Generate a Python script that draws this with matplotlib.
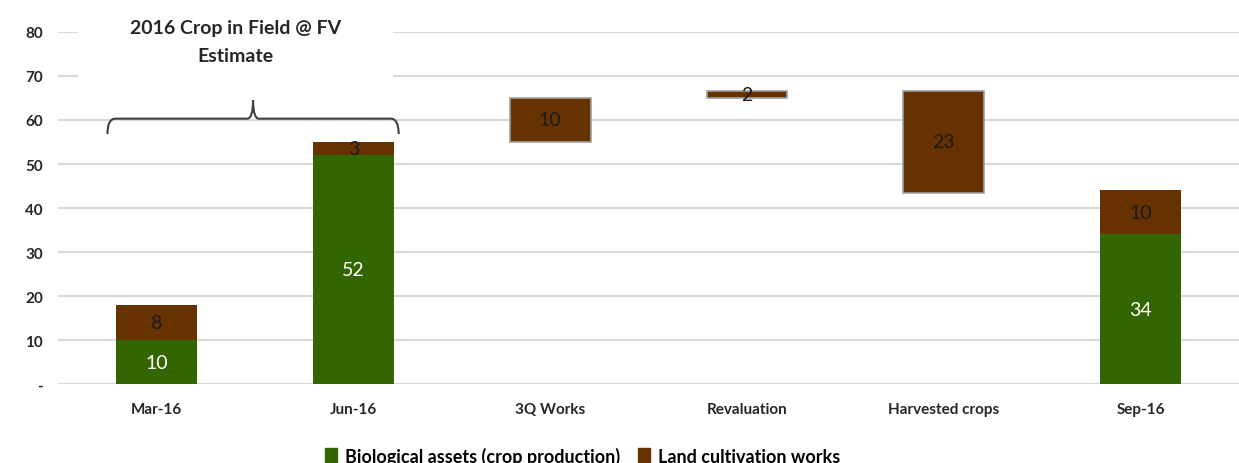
import numpy as np
import matplotlib.pyplot as plt
from matplotlib.path import Path
from matplotlib.patches import PathPatch, Rectangle

categories = ['Mar-16', 'Jun-16', '3Q Works', 'Revaluation', 'Harvested crops', 'Sep-16']

# stacked balances
bio_assets = [10, 52, 0, 0, 0, 34]
land_works = [8, 3, 0, 0, 0, 10]

# waterfall movements between Jun-16 and Sep-16
moves = [10, 1.5, -23]
move_idx = [2, 3, 4]

green = '#336600'
brown = '#663300'

plt.rcParams['font.family'] = ['Lato', 'DejaVu Sans']

fig = plt.figure(figsize=(12.39, 4.64), dpi=100)
ax = fig.add_axes([0.047, 0.17, 0.953, 0.759])

x = np.arange(len(categories))
w = 0.41

# balance bars (Mar-16, Jun-16, Sep-16)
for i in [0, 1, 5]:
    ax.bar(x[i], bio_assets[i], w, color=green, zorder=3)
    ax.bar(x[i], land_works[i], w, bottom=bio_assets[i], color=brown, zorder=3)
    ax.text(x[i], bio_assets[i] / 2, '%d' % bio_assets[i], ha='center', va='center',
            color='white', fontsize=14, zorder=4)
    ax.text(x[i], bio_assets[i] + land_works[i] / 2, '%d' % land_works[i], ha='center',
            va='center', color='#1a1a1a', fontsize=14, zorder=4)

# floating bars
level = bio_assets[1] + land_works[1]
for i, m in zip(move_idx, moves):
    bottom = level if m > 0 else level + m
    ax.bar(x[i], abs(m), w, bottom=bottom, color=brown, edgecolor='#a0a0a0', lw=1.2, zorder=3)
    ax.text(x[i], bottom + abs(m) / 2, '%.0f' % abs(m), ha='center', va='center',
            color='#1a1a1a', fontsize=14, zorder=4)
    level += m

ax.set_xlim(-0.5, 5.5)
ax.set_ylim(0, 80)
ax.set_yticks(range(0, 81, 10))
ax.set_yticklabels(['-'] + [str(v) for v in range(10, 81, 10)])
ax.set_xticks(x)
ax.set_xticklabels(categories)
ax.tick_params(length=0, labelsize=11)
ax.tick_params(axis='x', pad=13)
ax.tick_params(axis='y', pad=11)
for lab in ax.get_xticklabels() + ax.get_yticklabels():
    lab.set_fontweight('bold')
    lab.set_color('#262626')
for s in ax.spines.values():
    s.set_visible(False)
ax.yaxis.grid(True, color='#d9d9d9', lw=1.5, zorder=0)
ax.axhline(0, color='#c8c8c8', lw=1.5, zorder=1)

# brace over Mar-16 / Jun-16
xl, xr, xm = -0.25, 1.23, 0.49
yb, yt, ytip = 56.8, 60.3, 64.5
verts = [(xl, yb), (xl, yt), (xl + 0.04, yt), (xm - 0.03, yt), (xm, yt), (xm, ytip),
         (xm, yt), (xm + 0.03, yt), (xr - 0.04, yt), (xr, yt), (xr, yb)]
codes = [Path.MOVETO, Path.CURVE3, Path.CURVE3, Path.LINETO, Path.CURVE3, Path.CURVE3,
         Path.CURVE3, Path.CURVE3, Path.LINETO, Path.CURVE3, Path.CURVE3]
ax.add_patch(PathPatch(Path(verts, codes), fill=False, ec='#404040', lw=1.5, zorder=5))
# white text box hiding the gridlines behind the caption
ax.add_patch(Rectangle((-0.40, 67), 1.60, 16, fc='white', ec='none', zorder=2, clip_on=False))
ax.text(0.40, 77.8, '2016 Crop in Field @ FV\nEstimate', ha='center', va='center',
        fontsize=14, fontweight='bold', color='#262626', linespacing=1.8, clip_on=False,
        zorder=6)

# legend
handles = [Rectangle((0, 0), 1, 1, color=green), Rectangle((0, 0), 1, 1, color=brown)]
fig.legend(handles, ['Biological assets (crop production)', 'Land cultivation works'],
           loc='center', bbox_to_anchor=(0.47, 0.015), ncol=2, frameon=False,
           handlelength=0.7, handleheight=0.9, columnspacing=1.0,
           handletextpad=0.4, prop={'weight': 'bold', 'size': 13})

fig.savefig('out.png', dpi=100)
